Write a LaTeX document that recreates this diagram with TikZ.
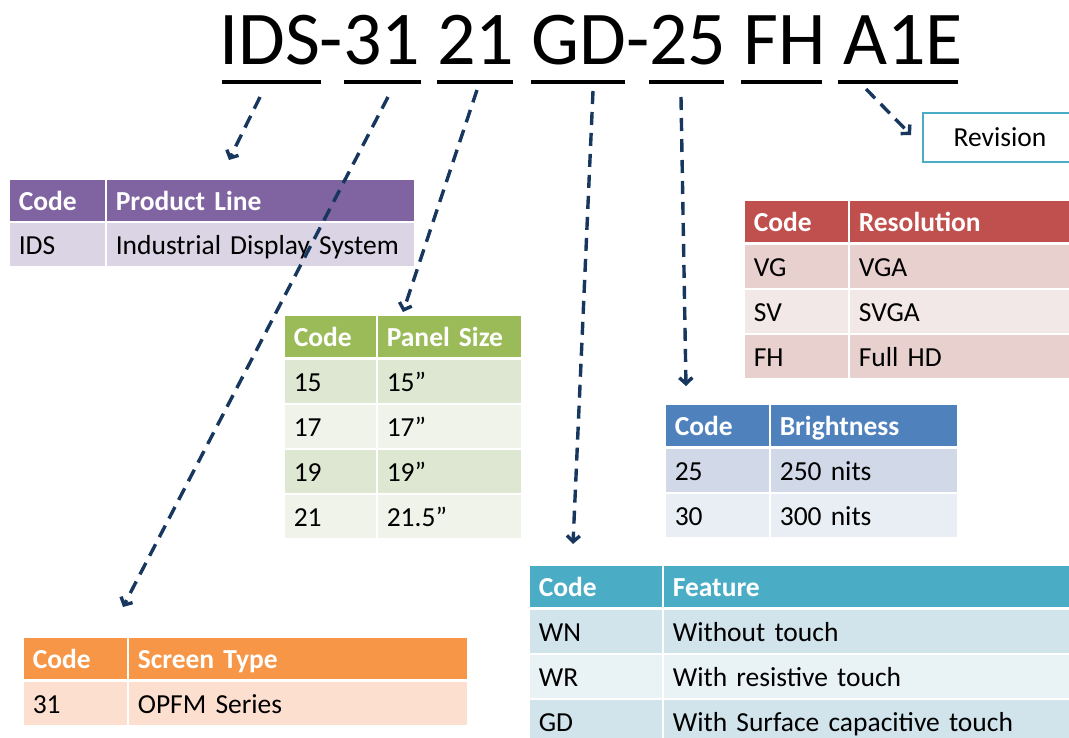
\documentclass[tikz,border=0pt]{standalone}
\usepackage{fontspec}
\setmainfont{Carlito}
\usetikzlibrary{arrows.meta}
\definecolor{navy}{HTML}{17375E}
\definecolor{purH}{HTML}{8064A2}\definecolor{purA}{HTML}{DAD4E5}
\definecolor{grnH}{HTML}{9BBB59}\definecolor{grnA}{HTML}{DEE7D2}\definecolor{grnB}{HTML}{EFF3EA}
\definecolor{redH}{HTML}{C0504D}\definecolor{redA}{HTML}{E8D0CF}\definecolor{redB}{HTML}{F3E8E8}
\definecolor{bluH}{HTML}{4F81BD}\definecolor{bluA}{HTML}{D1D9E8}\definecolor{bluB}{HTML}{E9EDF4}
\definecolor{tealH}{HTML}{4BACC6}\definecolor{tealA}{HTML}{D2E4EB}\definecolor{tealB}{HTML}{E9F2F5}
\definecolor{orgH}{HTML}{F79646}\definecolor{orgA}{HTML}{FDDFCF}
\newcommand\tabfont{\fontsize{27.5}{30}\selectfont}
\tikzset{
  cell/.style={draw=white, line width=1.6pt, anchor=north west, inner xsep=10pt, inner ysep=0pt,
    align=left, font=\tabfont, text=black, minimum height=45pt, text height=24pt, text depth=4pt},
  hcell/.style={cell, font=\tabfont\bfseries, text=white, minimum height=43pt},
  uline/.style={fill=black, draw=none, inner sep=0pt, minimum height=3.5pt},
  arr/.style={draw=navy, line width=3.4pt, dash pattern=on 13pt off 8pt, -{Straight Barb[length=6pt,width=13pt,line width=3.4pt]}},
}
\begin{document}
\begin{tikzpicture}[x=1pt,y=-1pt]
\useasboundingbox (0,0) rectangle (1069,737);
\clip (0,0) rectangle (1069,737);
% title
\node[anchor=base, inner sep=0pt, font=\fontsize{76}{80}\selectfont] (title) at (591,64) {IDS-31 21 GD-25 FH A1E};
% underlines
\node[uline, minimum width=99pt] (uIDS) at (271.5,82) {};
\node[uline, minimum width=77pt] (u31) at (382.5,82) {};
\node[uline, minimum width=76pt] (u21) at (475,82) {};
\node[uline, minimum width=94pt] (uGD) at (578,82) {};
\node[uline, minimum width=75pt] (u25) at (686.5,82) {};
\node[uline, minimum width=81pt] (uFH) at (781.5,82) {};
\node[uline, minimum width=120pt] (uA1E) at (898,82) {};

% Product Line (purple)
\node[hcell, fill=purH, minimum width=97pt, text width=77pt] (pH1) at (8,178) {Code};
\node[hcell, fill=purH, minimum width=309pt, text width=289pt] (pH2) at (105,178) {Product Line};
\node[cell, fill=purA, minimum width=97pt, text width=77pt] (p11) at (8,221) {IDS};
\node[cell, fill=purA, minimum width=309pt, text width=289pt] (p12) at (105,221) {Industrial Display System};

% Panel Size (green)
\node[hcell, fill=grnH, minimum width=93pt, text width=73pt] (gH1) at (283,314) {Code};
\node[hcell, fill=grnH, minimum width=145pt, text width=125pt] (gH2) at (376,314) {Panel Size};
\node[cell, fill=grnA, minimum width=93pt, text width=73pt] (g11) at (283,358) {15};
\node[cell, fill=grnA, minimum width=145pt, text width=125pt] (g12) at (376,358) {15”};
\node[cell, fill=grnB, minimum width=93pt, text width=73pt] (g21) at (283,403) {17};
\node[cell, fill=grnB, minimum width=145pt, text width=125pt] (g22) at (376,403) {17”};
\node[cell, fill=grnA, minimum width=93pt, text width=73pt] (g31) at (283,448) {19};
\node[cell, fill=grnA, minimum width=145pt, text width=125pt] (g32) at (376,448) {19”};
\node[cell, fill=grnB, minimum width=93pt, text width=73pt] (g41) at (283,493) {21};
\node[cell, fill=grnB, minimum width=145pt, text width=125pt] (g42) at (376,493) {21.5”};

% Resolution (red)
\node[hcell, fill=redH, minimum width=105pt, text width=85pt] (rH1) at (743,199) {Code};
\node[hcell, fill=redH, minimum width=292pt, text width=272pt] (rH2) at (848,199) {Resolution};
\node[cell, fill=redA, minimum width=105pt, text width=85pt] (r11) at (743,243) {VG};
\node[cell, fill=redA, minimum width=292pt, text width=272pt] (r12) at (848,243) {VGA};
\node[cell, fill=redB, minimum width=105pt, text width=85pt] (r21) at (743,288) {SV};
\node[cell, fill=redB, minimum width=292pt, text width=272pt] (r22) at (848,288) {SVGA};
\node[cell, fill=redA, minimum width=105pt, text width=85pt] (r31) at (743,333) {FH};
\node[cell, fill=redA, minimum width=292pt, text width=272pt] (r32) at (848,333) {Full HD};

% Brightness (blue)
\node[hcell, fill=bluH, minimum width=105pt, text width=85pt] (bH1) at (664,403) {Code};
\node[hcell, fill=bluH, minimum width=188pt, text width=168pt] (bH2) at (769,403) {Brightness};
\node[cell, fill=bluA, minimum width=105pt, text width=85pt] (b11) at (664,447) {25};
\node[cell, fill=bluA, minimum width=188pt, text width=168pt] (b12) at (769,447) {250 nits};
\node[cell, fill=bluB, minimum width=105pt, text width=85pt] (b21) at (664,492) {30};
\node[cell, fill=bluB, minimum width=188pt, text width=168pt] (b22) at (769,492) {300 nits};

% Feature (teal)
\node[hcell, fill=tealH, minimum width=134pt, text width=114pt] (tH1) at (528,564) {Code};
\node[hcell, fill=tealH, minimum width=420pt, text width=400pt] (tH2) at (662,564) {Feature};
\node[cell, fill=tealA, minimum width=134pt, text width=114pt] (t11) at (528,608) {WN};
\node[cell, fill=tealA, minimum width=420pt, text width=400pt] (t12) at (662,608) {Without touch};
\node[cell, fill=tealB, minimum width=134pt, text width=114pt] (t21) at (528,653) {WR};
\node[cell, fill=tealB, minimum width=420pt, text width=400pt] (t22) at (662,653) {With resistive touch};
\node[cell, fill=tealA, minimum width=134pt, text width=114pt] (t31) at (528,698) {GD};
\node[cell, fill=tealA, minimum width=420pt, text width=400pt] (t32) at (662,698) {With Surface capacitive touch};

% Screen Type (orange)
\node[hcell, fill=orgH, minimum width=105pt, text width=85pt] (oH1) at (22,636) {Code};
\node[hcell, fill=orgH, minimum width=340pt, text width=320pt] (oH2) at (127,636) {Screen Type};
\node[cell, fill=orgA, minimum width=105pt, text width=85pt] (o11) at (22,680) {31};
\node[cell, fill=orgA, minimum width=340pt, text width=320pt] (o12) at (127,680) {OPFM Series};

% Revision box
\node[draw=tealH, line width=2pt, fill=white, anchor=north west, minimum width=180pt, minimum height=49pt,
      inner sep=0pt] (rev) at (922,112) {};
\node[font=\tabfont, inner sep=0pt] (revt) at (1000,137) {Revision};

% arrow end points
\coordinate (s1) at (260,97);  \coordinate (e1) at (229,160);
\coordinate (s2) at (388,97);  \coordinate (e2) at (123,607);
\coordinate (s3) at (477,90);  \coordinate (e3) at (403,312);
\coordinate (s4) at (593,91);  \coordinate (e4) at (573,544);
\coordinate (s5) at (681,97);  \coordinate (e5) at (686,386);
\coordinate (s6) at (866,89);  \coordinate (e6) at (911,135);

\draw[arr] (s1) -- (e1);
\draw[arr] (s2) -- (e2);
\draw[arr] (s3) -- (e3);
\draw[arr] (s4) -- (e4);
\draw[arr] (s5) -- (e5);
\draw[arr] (s6) -- (e6);
\end{tikzpicture}
\end{document}
